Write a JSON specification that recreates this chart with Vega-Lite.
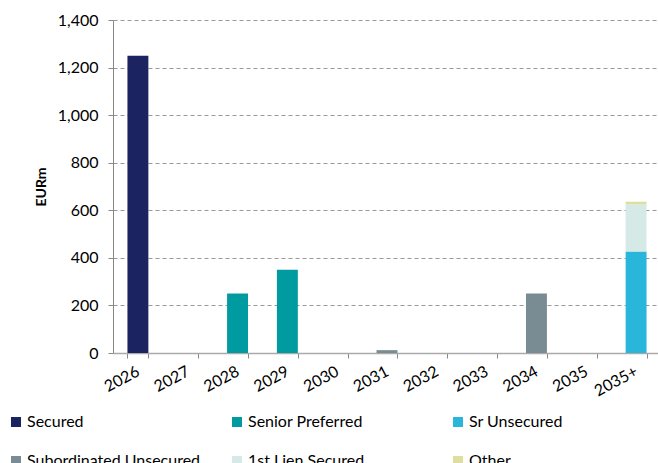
{
  "$schema": "https://vega.github.io/schema/vega-lite/v6.json",
  "autosize": "none",
  "width": 548,
  "height": 333,
  "padding": {"left": 113, "top": 20, "right": 0, "bottom": 110},
  "background": "white",
  "config": {
    "view": {"stroke": null},
    "font": "Lato",
    "axis": {"labelFont": "Lato", "titleFont": "Lato", "labelColor": "#000", "titleColor": "#000"},
    "legend": {"labelFont": "Lato"}
  },
  "data": {
    "values": [
      {"year": "2026", "type": "Secured", "ord": 0, "value": 1250},
      {"year": "2028", "type": "Senior Preferred", "ord": 1, "value": 250},
      {"year": "2029", "type": "Senior Preferred", "ord": 1, "value": 350},
      {"year": "2031", "type": "Subordinated Unsecured", "ord": 3, "value": 12},
      {"year": "2034", "type": "Subordinated Unsecured", "ord": 3, "value": 250},
      {"year": "2035+", "type": "Sr Unsecured", "ord": 2, "value": 427},
      {"year": "2035+", "type": "1st Lien Secured", "ord": 4, "value": 198},
      {"year": "2035+", "type": "Other", "ord": 5, "value": 11}
    ]
  },
  "mark": {"type": "bar"},
  "encoding": {
    "x": {
      "field": "year",
      "type": "nominal",
      "scale": {
        "domain": ["2026", "2027", "2028", "2029", "2030", "2031", "2032", "2033", "2034", "2035", "2035+"],
        "paddingInner": 0.58,
        "paddingOuter": 0.29
      },
      "axis": {
        "title": null,
        "labelAngle": -28,
        "labelAlign": "right",
        "labelBaseline": "middle",
        "labelFontSize": 16,
        "labelPadding": 12,
        "tickBand": "extent",
        "tickSize": 5,
        "tickColor": "#888",
        "domainColor": "#aaa",
        "domainWidth": 1.5,
        "grid": false
      }
    },
    "y": {
      "field": "value",
      "type": "quantitative",
      "stack": "zero",
      "scale": {"domain": [0, 1400], "nice": false},
      "axis": {
        "title": "EURm",
        "titleFontSize": 14,
        "titleFontWeight": "bold",
        "titlePadding": 9,
        "values": [0, 200, 400, 600, 800, 1000, 1200, 1400],
        "format": ",.0f",
        "labelFontSize": 16,
        "labelPadding": 10,
        "tickSize": 5,
        "tickColor": "#888",
        "domainColor": "#888",
        "grid": true,
        "gridDash": [4, 3],
        "gridColor": "#999",
        "gridWidth": 1
      }
    },
    "color": {
      "field": "type",
      "type": "nominal",
      "scale": {
        "domain": ["Secured", "Senior Preferred", "Sr Unsecured", "Subordinated Unsecured", "1st Lien Secured", "Other"],
        "range": ["#1B2360", "#009BA0", "#29B6DA", "#7A8C93", "#D5E9E7", "#DDDFA0"]
      },
      "legend": {
        "title": null,
        "orient": "none",
        "legendX": -105,
        "legendY": 394,
        "direction": "horizontal",
        "columns": 3,
        "gridAlign": "all",
        "columnPadding": 28,
        "rowPadding": 23,
        "symbolType": "square",
        "symbolSize": 100,
        "symbolStrokeWidth": 0,
        "symbolOffset": 0,
        "labelOffset": 3,
        "labelFontSize": 16,
        "labelColor": "#000",
        "labelLimit": 300
      }
    },
    "order": {"field": "ord", "type": "quantitative"}
  }
}
